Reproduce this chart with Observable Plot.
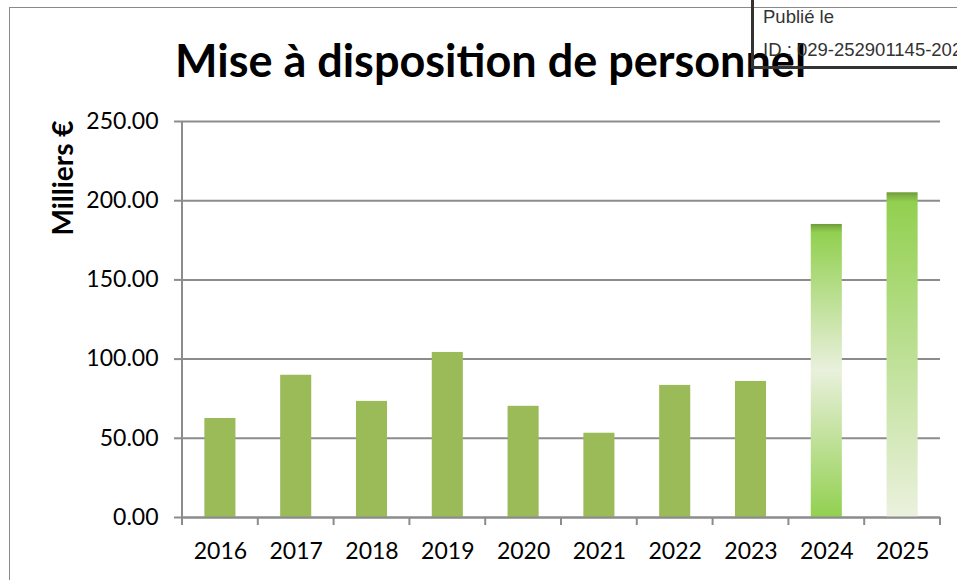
<!DOCTYPE html>
<html><head><meta charset="utf-8">
<script src="https://cdn.jsdelivr.net/npm/d3@7"></script>
<script src="https://cdn.jsdelivr.net/npm/@observablehq/plot@0.6"></script>
<style>
html,body{margin:0;padding:0;background:#fff;overflow:hidden}
#wrap{position:relative;width:957px;height:580px;overflow:hidden;font-family:Lato,"Open Sans",sans-serif}
#frame{position:absolute;left:9px;top:7px;width:1100px;height:1000px;border:1px solid #8a8a8a;box-sizing:border-box}
#title{position:absolute;left:175px;top:38px;font-family:Lato,sans-serif;font-weight:bold;font-size:45px;color:#000;white-space:nowrap;line-height:1}
#ylab{position:absolute;left:62px;top:178px;transform:translate(-50%,-50%) rotate(-90deg);font-family:Lato,sans-serif;font-weight:bold;font-size:28px;white-space:nowrap;line-height:1}
#stamp{position:absolute;left:751px;top:-10px;width:300px;height:79px;border:3px solid #333;box-sizing:border-box;overflow:hidden;font-family:"Liberation Sans",Arial,sans-serif;font-size:18.5px;line-height:22px;color:#333}
#stamp .l1{position:absolute;left:9px;top:13px}
#stamp .l2{position:absolute;left:9px;top:46px;white-space:nowrap}
#chart{position:absolute;left:0;top:0}
</style></head>
<body><div id="wrap">
<div id="frame"></div>
<div id="chart"></div>
<div id="title">Mise à disposition de personnel</div>
<div id="ylab">Milliers €</div>
<div id="stamp"><div class="l1">Publié le</div><div class="l2">ID : 029-252901145-20250101-DEL</div></div>
</div>
<script>
const years = ["2016","2017","2018","2019","2020","2021","2022","2023","2024","2025"];
const values = [62.5, 89.8, 73.3, 104.2, 70.2, 53.2, 83.4, 85.9, 185.0, 205.0];
const yTicks = [0, 50, 100, 150, 200, 250];
const data = years.map((y, i) => ({year: y, value: values[i]}));

const W = 957, H = 580;
const chart = Plot.plot({
  width: W, height: H,
  marginLeft: 182, marginRight: 17, marginTop: 121, marginBottom: 63,
  style: {fontFamily: "Lato, 'Open Sans', sans-serif", fontSize: "23px", color: "#000", background: "transparent"},
  x: {domain: years, paddingInner: 0.59, paddingOuter: 0.295, round: false, label: null},
  y: {domain: [0, 250], label: null},
  marks: [
    Plot.gridY(yTicks, {stroke: "#8c8c8c", strokeOpacity: 1, strokeWidth: 2}),
    Plot.barY(data.filter(d => +d.year < 2024), {x: "year", y: "value", fill: "#9bbb59"}),
    Plot.barY(data.filter(d => d.year === "2024"), {x: "year", y: "value", fill: "url(#g2024)"}),
    Plot.barY(data.filter(d => d.year === "2025"), {x: "year", y: "value", fill: "url(#g2025)"}),
    Plot.ruleY([0], {stroke: "#8c8c8c", strokeWidth: 2}),
    Plot.axisY(yTicks, {tickFormat: d3.format(".2f"), tickSize: 8, tickPadding: 16, stroke: "#8c8c8c", strokeWidth: 2, fontSize: 23}),
    Plot.axisX({tickSize: 0, tickPadding: 25, fontSize: 23})
  ]
});
document.getElementById("chart").appendChild(chart);

const svg = d3.select(chart);
const defs = svg.insert("defs", ":first-child");
const g1 = defs.append("linearGradient").attr("id", "g2024").attr("x1", 0).attr("y1", 0).attr("x2", 0).attr("y2", 1);
[[0, "#6f9a35"], [0.012, "#7fb447"], [0.03, "#92d050"], [0.5, "#e9f0dc"], [1, "#92d050"]]
  .forEach(([o, c]) => g1.append("stop").attr("offset", o).attr("stop-color", c));
const g2 = defs.append("linearGradient").attr("id", "g2025").attr("x1", 0).attr("y1", 0).attr("x2", 0).attr("y2", 1);
[[0, "#6f9a35"], [0.012, "#7fb447"], [0.03, "#92d050"], [1, "#ebf1de"]]
  .forEach(([o, c]) => g2.append("stop").attr("offset", o).attr("stop-color", c));

// y axis line and category-boundary ticks derived from the Plot scales
const xs = chart.scale("x"), ys = chart.scale("y");
const step = xs.step, bw = xs.bandwidth;
const xLeft = xs.apply(years[0]) - (step - bw) / 2;
const y0 = ys.apply(0), yTop = ys.apply(250);
const g = svg.append("g").attr("stroke", "#8c8c8c").attr("stroke-width", 2);
g.append("line").attr("x1", xLeft).attr("x2", xLeft).attr("y1", yTop).attr("y2", y0 + 8);
for (let i = 0; i <= years.length; i++) {
  const x = xLeft + i * step;
  g.append("line").attr("x1", x).attr("x2", x).attr("y1", y0).attr("y2", y0 + 8);
}
</script>
</body></html>
